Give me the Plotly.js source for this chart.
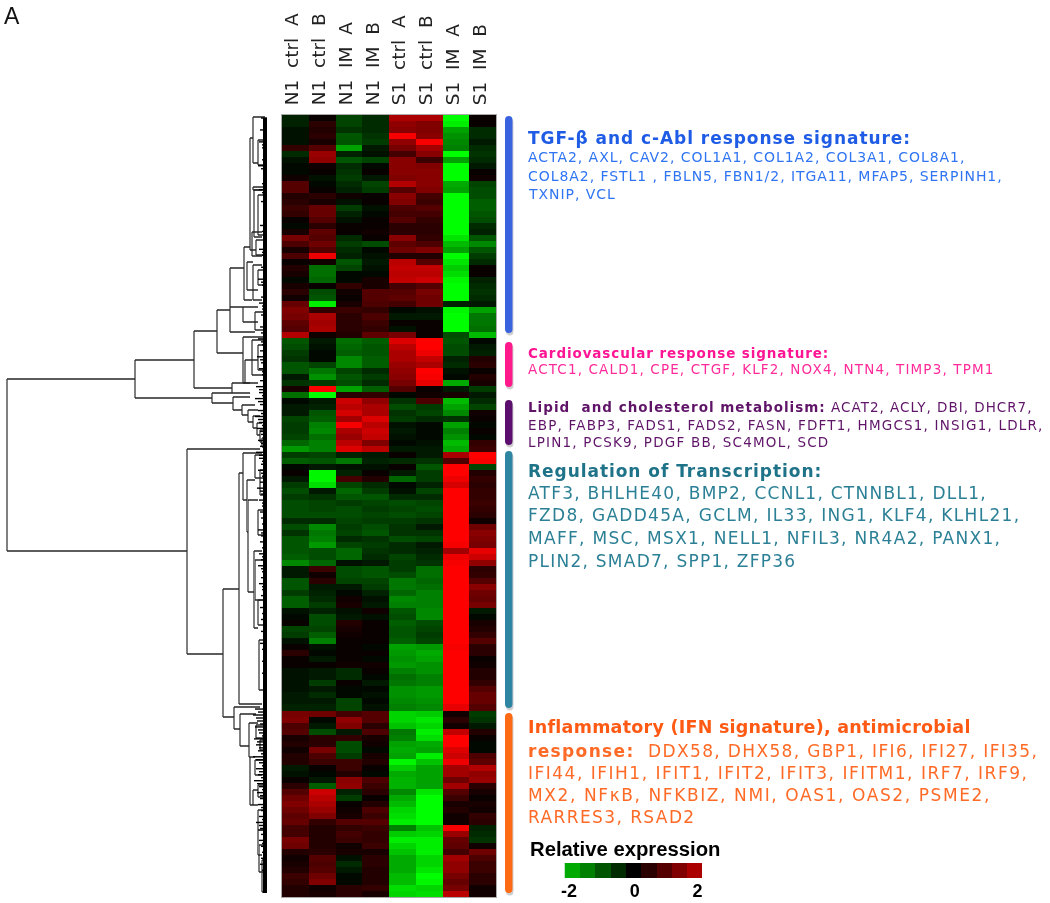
<!DOCTYPE html>
<html><head><meta charset="utf-8">
<script src="https://cdn.plot.ly/plotly-3.0.1.min.js"></script>
<style>html,body{margin:0;padding:0;background:#fff}#chart{width:1050px;height:903px;filter:blur(0.45px)}</style>
</head><body><div id="chart"></div>
<script>
var sampleLabels=['N1  ctrl  A','N1  ctrl  B','N1  IM  A','N1  IM  B','S1  ctrl  A','S1  ctrl  B','S1  IM  A','S1  IM  B'];
var tgfRows=[
[-.4,.1,-.8,-.5,2,2,-3,.1],[-.4,.5,-.8,-.5,1.7,1.5,-2.8,.1],[-.2,.4,-.6,-.5,1.6,1.5,-1.9,-.5],[-.2,.5,-1,-.6,2.9,1.6,-1.7,-.5],
[-.2,.3,-1,-.7,1.7,2.9,-1.6,-.3],[.6,1,-1.9,-.3,1.4,1.9,-1.5,-.5],[-.5,1.8,-.4,-.2,.8,1.6,-3,-.6],[-.2,1.7,-1,-.8,1.6,.7,-1.9,-.5],
[-.1,.2,-.5,-.1,1.6,1.5,-3,-.3],[-.1,.1,-.6,.1,1.6,1.6,-3,.1],[.2,-.2,-.7,-.3,1.5,1.6,-3,.2],[1,-.1,-.5,-.8,2.1,1.6,-2,-.8],
[1,.1,-.4,-.7,1,1.5,-1.9,-.9],[.4,.5,.2,.1,1.6,.8,-3,-.9],[.5,.3,-.2,.1,1.5,.7,-3,-1.1],[.7,1.2,-.7,-.2,.9,1,-3,-1.1],
[.6,1.2,-.4,-.1,.8,.8,-3,-1],[.1,1,-.2,.1,1,.6,-3,-.9],[-.1,.5,.1,.1,.5,.5,-3,-.5],[.3,1.1,.1,.2,.5,.5,-3,-.4],
[1.4,1,-.5,.1,1.6,.6,-2.7,-1],[.9,1.3,-.7,-.9,1.1,.9,-2.2,-1.6],[.3,1,-.5,-.1,1.3,1.5,-1.9,-1],[.9,2.8,-.4,-.2,.4,.4,-3,-.7],
[.1,.2,-1,-.3,2.2,1,-2.7,-.5],[.4,-1.3,-.8,-.2,2.3,2.3,-2.4,.1],[.3,-1.3,-.1,-.1,2.2,2.2,-2.6,.1],[-.1,-1.2,-.1,.3,2.3,2.4,-2.9,-.4],
[.3,.1,.6,.3,.8,1,-3,-.5],[.5,-.9,.2,1,1,1.4,-3,-.6],[.2,-1,.1,1,1.1,1.3,-3,-.5],[1.2,-2.8,.3,.9,.8,1.3,-.4,-.3],
[1.5,.6,.7,.6,-.1,-.2,-2.9,-1.9],[1.4,2,.5,.9,-.3,-.3,-3,-1.4],[1.1,1.9,.5,.7,.1,.1,-3,-1.4],[1,2,.5,.6,-.2,.1,-3,-1.3],
[2.1,.2,.4,1.1,1.4,.1,-.9,-2.2]];
var cardioRows=[
[-1,-.3,-1.3,-1.1,2.6,3,-1,-.1],[-.9,-.2,-1.2,-1,2.2,3,-.9,-.3],[-.7,-.1,-1.1,-1,2,2.8,-.9,-.4],[-.6,-.1,-1.6,-1.1,2,2.3,-.4,.4],
[-1,-.8,-1.6,-1.1,1.8,2,-.5,.5],[-1,-1.4,-.8,-.5,1.7,3,-.2,.1],[-.3,-1.7,-1,-.7,1.6,2.9,-.1,.4],[-.6,-.7,-.9,-.5,1.4,2.7,-2,.3],
[.3,3,-1.9,-1.1,1,.1,-.3,-.7],[-1.3,-3,.5,.6,-.1,.2,.3,-.3]];
var lipidRows=[
[-.1,-.3,2.4,1.7,-.6,.9,-2.2,-.5],[-.3,-.4,2.2,2,-.9,-.7,-1.9,-.8],[-.3,-1,2.5,2,-.6,-.8,-1.6,.2],[-.8,-1.1,1.9,2.6,-.7,-.5,-.6,.1],
[-.7,-1.5,2.9,2.2,-.2,-.1,-1.9,-.1],[-.7,-1.6,2,2.4,-.3,-.1,-1.5,.1],[-.8,-1.3,1.8,2.3,-.2,-.1,-1.7,-.1],[-1.2,-1.5,2.2,1.5,-.1,-.2,-2.2,.6],
[-1.8,-1.5,2.6,2.2,-.3,-.3,-2,.7]];
var transcriptionRows=[
[-.7,-.8,-.4,-.3,.1,-.3,2,3],[-1.1,-1,-1.4,-.4,-.5,-.6,.9,2.9],[-.1,-.3,-.2,-.2,.1,-1,3,-.8],[.1,-2.9,-.4,.1,-.3,-.7,3,.4],
[-.3,-2.9,.8,.4,-1.2,-.7,2.8,.6],[-.7,-2.6,-.8,-.5,-.1,-.4,2.5,.5],[-.9,-.3,-1.2,-.7,-.2,-.8,3,.6],[-.7,-.6,-1,-1,-.5,-.5,3,.6],
[-.9,-.8,-.7,-.8,-.9,-.8,3,.7],[-.9,-.8,-.9,-.7,-.8,-.9,3,.6],[-.9,-.9,-.9,-.8,-.9,-.8,3,.5],[-.5,-.5,-.8,-.7,-.7,-.6,3,.2],
[-.9,-1.6,-.7,-.9,-.6,-.3,3,1.3],[-.6,-1.4,-.8,-1,-.6,-.6,3,1.6],[-1,-1.5,-.5,-.6,-.9,-.8,3,1.5],[-1,-1.8,-.8,-.7,-.5,-.3,2.9,1.4],
[-1,-.9,-1.2,-.6,-.5,-.4,1.9,2.7],[-1.1,-.9,-1.2,-.5,-.8,-.5,2.8,2.4],[-1.6,-1.2,-.2,-.3,-.7,-.6,2.9,1.7],[-.3,.7,-.9,-1,-.7,-1.3,3,.5],
[-.3,.2,-.9,-1,-.9,-1.3,3,.6],[-1,.5,-.8,-.8,-1.4,-1.2,3,1],[-1,-.3,-.3,-.7,-1.4,-1.3,3,1.6],[-.7,-.4,-.1,-.4,-1.2,-1.5,3,1.3],
[-1.1,-.5,.2,-.2,-1.6,-1.5,3,1.2],[-1.1,-.7,.3,-.3,-1.5,-1.5,3,1.4],[-.2,-.4,-.2,.2,-1,-1.6,3,-.3],[-.1,-.9,-.3,-.2,-.9,-1.6,3,-.1],
[.1,-.9,.4,.1,-1.1,-.9,3,.3],[-.8,-.8,.3,.1,-1,-.8,3,.4],[-.7,-1.1,.2,.1,-1,-.7,3,.6],[-.2,-1.5,.1,.1,-1.1,-.8,3,1],
[.1,-.2,.1,-.1,-1.9,-1.8,2.9,.5],[.5,-.1,.1,.1,-1.8,-2,3,.5],[.1,-.3,.1,-.1,-1.7,-1.9,3,.1],[.1,.1,.2,.2,-1.8,-1.7,3,.2],
[-.2,-.3,-.5,.1,-1.5,-1.7,3,.4],[-.2,-.3,-.5,-.1,-1.3,-1.5,3,.4],[-.2,-.7,.1,-.3,-1.4,-1.5,3,.6],[-.2,-.3,-.1,-.1,-1.7,-1.8,3,1],
[-.3,-.5,-.1,-.2,-1.7,-1.8,3,1.2],[-.3,-.3,-.8,-.1,-1.6,-1.7,3,1.2],[-.4,-.4,-.8,-.2,-1.5,-1.6,2.7,1]];
var inflammatoryRows=[
[1.4,1.3,.8,1,-2.5,-2.4,.2,-.7],[1.5,-.1,1.7,1,-2.5,-2.7,.5,-.6],[.9,-.3,1.5,.5,-2.3,-2.5,.2,-.3],[1,-.9,-.3,.9,-1.4,-2.8,2.3,.4],
[.3,.5,.6,.3,-1.5,-2.6,3,.1],[.4,.5,-.9,.2,-1.9,-2,3,-.1],[.2,1.4,-.9,-.1,-2,-1.9,2.6,-.1],[.4,.9,-.7,.3,-1.9,-2.8,2.4,.9],
[.4,.7,.7,.4,-2.9,-2.3,2.8,1.1],[-.3,.1,.7,.1,-2.4,-1.9,1.9,2.1],[-.2,-.1,.4,-.1,-2,-1.9,1.9,1.7],[.1,-.3,1.6,.9,-2.1,-1.9,1.3,1.8],
[.5,-1.1,1.7,.7,-2.1,-1.9,1.9,.5],[1,2.4,-.4,.5,-1.6,-2.7,1,.3],[1.3,2.2,-.7,.1,-2,-3,.7,.1],[1.5,2,.1,.4,-2.2,-3,.3,.3],
[1.3,1.8,.2,.9,-2.5,-3,.4,.2],[1.1,1.5,.3,.7,-2.6,-3,.2,.6],[1.2,.6,1,1,-2.8,-3,.2,.5],[.8,.4,.6,.7,-1.5,-2.3,2.9,-.4],
[.8,.4,.8,.6,-2.4,-2.5,1.8,-.5],[1.4,.4,.7,.6,-2.8,-2.8,1.2,-.6],[1.3,.4,.2,.7,-2.5,-2.8,1.1,.2],[.4,.5,.3,.3,-2.3,-2.8,.8,1.3],
[.2,1,-.2,.5,-2,-2.5,1.9,.9],[.3,.9,-.5,.5,-2,-2.5,1.7,.7],[.4,1,-.3,.4,-2,-2.7,1.7,.7],[.7,1.3,-.1,.4,-2.2,-3,1.4,.5],
[.6,1.5,-.1,.4,-2.2,-2.9,1.2,.5],[.4,.2,.5,.6,-2.6,-2.5,1.4,.2],[.4,.3,.5,.3,-2.5,-2.6,2.2,.2]];

// Dendrogram clades: [merge depth, top child position, bottom child position, top child depth, bottom child depth]
var cladeRows=[
[7,379,551,135,187],[135,360,398,194,212],[194,331,388,217,232],[217,310,353,230,243],[230,268,307,244,230],[230,307,332,243,255],
[243,307,322,258,258],[244,247,300,250,252],[250,138,250,253,256],[253,117,163,265,258],[258,140,165,264,264],[253,187,190,264,264],
[254,190,237,262,262],[258,195,235,264,263],[252,232,256,262,262],[256,240,255,264,264],[253,265,300,262,262],[247,262,290,253,258],
[258,270,285,264,264],[255,312,330,264,264],[243,337,383,263,245],[252,340,375,263,263],[245,360,383,258,258],[258,345,370,264,264],
[232,383,393,250,250],[212,393,403,232,233],[233,397,410,250,242],[242,405,415,255,248],[248,410,422,258,253],[253,416,428,260,257],
[257,423,435,262,260],[260,430,442,264,262],[262,438,447,265,264],
[187,449,654,260,223],[223,589,717,239,234],[239,473,704,243,262],[243,453,500,262,247],[247,480,532,255,248],[248,500,592,258,254],
[254,551,628,262,258],[258,510,535,264,264],[255,560,600,263,263],[258,600,625,264,264],[259,640,690,264,264],[260,470,495,264,264],
[255,455,478,263,263],[234,707,729,260,240],[240,714,746,256,249],[249,723,757,258,250],[250,757,805,255,253],[255,760,775,264,262],
[253,790,805,258,258],[258,785,797,264,263],[256,725,738,263,263],[258,810,830,265,263],[258,830,855,265,262],[259,845,872,265,263],
[262,860,892,265,265],[260,740,750,264,264]];
// Width of the dense leaf comb at each heatmap row
var leafDepth=[6,4,7,3,8,5,3,5,9,4,3,5,8,3,6,4,3,4,7,5,3,4,8,5,3,6,4,9,5,4,6,8,5,6,4,7,6,9,5,7,10,6,8,5,7,11,8,12,7,9,12,8,10,6,9,7,
               11,8,6,9,5,7,10,6,8,5,7,6,5,9,6,7,5,8,6,9,5,6,8,5,6,4,7,5,6,4,6,4,7,5,4,5,4,5,3,4,3,4,3,12,14,10,12,8,13,11,9,14,8,11,9,13,8,10,7,9,6,8,11,7,6,8,6,5,6,7,5,4,4,3];

var legendValues=[-2,-1.5,-1,-0.5,0,0.5,1,1.5,2];
var legendTickVals=[-2.1,0.05,2.1], legendTickText=['-2','0','2'];
var groupTop=[116,342,400,451,713], groupBottom=[333,387,445,708,893];
var groupColors=['#3a63e0','#ff1a8c','#5c0f6e','#2f86a3','#ff6a14'];
var textLines=[
 {t:'<b>TGF-β and c-Abl response signature:</b>',y:138,s:17,ls:.95,c:'#1f5ce6'},
 {t:'ACTA2, AXL, CAV2, COL1A1, COL1A2, COL3A1, COL8A1,',y:157,s:14,ls:.95,c:'#2f74f2'},
 {t:'COL8A2, FSTL1 , FBLN5, FBN1/2, ITGA11, MFAP5, SERPINH1,',y:176,s:14,ls:.95,c:'#2f74f2'},
 {t:'TXNIP, VCL',y:194,s:14,ls:.95,c:'#2f74f2'},
 {t:'<b>Cardiovascular response signature:</b>',y:353,s:13.5,ls:.9,c:'#ff1493'},
 {t:'ACTC1, CALD1, CPE, CTGF, KLF2, NOX4, NTN4, TIMP3, TPM1',y:369,s:13.5,ls:1.15,c:'#ff2a9a'},
 {t:'<b>Lipid  and cholesterol metabolism:</b> ACAT2, ACLY, DBI, DHCR7,',y:407,s:13.5,ls:1,c:'#5f1468'},
 {t:'EBP, FABP3, FADS1, FADS2, FASN, FDFT1, HMGCS1, INSIG1, LDLR,',y:425,s:13.5,ls:1.2,c:'#5f1468'},
 {t:'LPIN1, PCSK9, PDGF BB, SC4MOL, SCD',y:442,s:13.5,ls:1.2,c:'#5f1468'},
 {t:'<b>Regulation of Transcription:</b>',y:471,s:17,ls:.95,c:'#1f7389'},
 {t:'ATF3, BHLHE40, BMP2, CCNL1, CTNNBL1, DLL1,',y:493,s:17,ls:1.25,c:'#2c8096'},
 {t:'FZD8, GADD45A, GCLM, IL33, ING1, KLF4, KLHL21,',y:515,s:17,ls:1.3,c:'#2c8096'},
 {t:'MAFF, MSC, MSX1, NELL1, NFIL3, NR4A2, PANX1,',y:538,s:17,ls:1.3,c:'#2c8096'},
 {t:'PLIN2, SMAD7, SPP1, ZFP36',y:561,s:17,ls:1.25,c:'#2c8096'},
 {t:'<b>Inflammatory (IFN signature), antimicrobial</b>',y:727,s:17.5,ls:.25,c:'#ff5a14'},
 {t:'<b>response:</b>  DDX58, DHX58, GBP1, IFI6, IFI27, IFI35,',y:751,s:17,ls:1.35,c:'#ff6a26'},
 {t:'IFI44, IFIH1, IFIT1, IFIT2, IFIT3, IFITM1, IRF7, IRF9,',y:773,s:17,ls:1.5,c:'#ff6a26'},
 {t:'MX2, NFκB, NFKBIZ, NMI, OAS1, OAS2, PSME2,',y:795,s:17,ls:1.6,c:'#ff6a26'},
 {t:'RARRES3, RSAD2',y:817,s:17,ls:1.4,c:'#ff6a26'}
];

var W=1050,H=903,F='"DejaVu Sans", Verdana, sans-serif',A='"Liberation Sans", Arial, sans-serif';
function px(x){return x/W;} function py(y){return 1-y/H;}
var z=tgfRows.concat(cardioRows,lipidRows,transcriptionRows,inflammatoryRows);
var scale=[[0,'#00ff00'],[0.5,'#000000'],[1,'#ff0000']];
var traces=[{type:'heatmap',z:z,x:[0,1,2,3,4,5,6,7],y0:3,dy:6.015,zmin:-3,zmax:3,colorscale:scale,showscale:false,xaxis:'x',yaxis:'y'},
 {type:'heatmap',z:[legendValues],x:legendValues,y:[0],zmin:-3,zmax:3,colorscale:scale,showscale:false,xaxis:'x3',yaxis:'y3'}];
var hx=[],hy=[],vx=[],vy=[];
cladeRows.forEach(function(c){
  hx.push(c[3],c[0],null,c[0],c[4],null);
  hy.push(c[1],c[1],null,c[2],c[2],null);
  vx.push(c[0],c[0],null); vy.push(c[1],c[2],null);
});
var lx=[],ly=[];
leafDepth.forEach(function(d,i){ var p=118+i*5.97; lx.push(267,267-d,null); ly.push(p,p,null);
  lx.push(267,267-Math.max(3,d-3),null); ly.push(p+3,p+3,null);});
traces.push({type:'scatter',mode:'lines',x:vx,y:vy,line:{color:'#808080',width:2},xaxis:'x2',yaxis:'y2',hoverinfo:'skip'});
traces.push({type:'scatter',mode:'lines',x:hx,y:hy,line:{color:'#262626',width:1.5},xaxis:'x2',yaxis:'y2',hoverinfo:'skip'});
traces.push({type:'scatter',mode:'lines',x:lx,y:ly,line:{color:'#000',width:1.4},xaxis:'x2',yaxis:'y2',hoverinfo:'skip'});
traces.push({type:'scatter',mode:'lines',x:[265,265],y:[118,893],line:{color:'#000',width:4},xaxis:'x2',yaxis:'y2',hoverinfo:'skip'});

var shapes=[];
groupTop.forEach(function(t,i){
  var b=groupBottom[i],r=4,x0=505,x1=512.5;
  function rr(dx,dy){return 'M'+px(x0+dx)+','+py(t+r+dy)+' Q'+px(x0+dx)+','+py(t+dy)+' '+px(x0+r-.2+dx)+','+py(t+dy)+' Q'+px(x1+dx)+','+py(t+dy)+' '+px(x1+dx)+','+py(t+r+dy)+
    ' L'+px(x1+dx)+','+py(b-r+dy)+' Q'+px(x1+dx)+','+py(b+dy)+' '+px(x0+r-.2+dx)+','+py(b+dy)+' Q'+px(x0+dx)+','+py(b+dy)+' '+px(x0+dx)+','+py(b-r+dy)+' Z';}
  shapes.push({type:'path',xref:'paper',yref:'paper',path:rr(1,2.5),fillcolor:'#cfcfcf',line:{width:0},layer:'below'});
  shapes.push({type:'path',xref:'paper',yref:'paper',path:rr(0,0),fillcolor:groupColors[i],line:{width:0}});
});
var ann=textLines.map(function(l){return {xref:'paper',yref:'paper',x:px(526),y:py(l.y),xanchor:'left',yanchor:'middle',text:'<span style="letter-spacing:'+l.ls+'px">'+l.t+'</span>',showarrow:false,align:'left',font:{family:F,size:l.s,color:l.c}};});
ann.push({xref:'paper',yref:'paper',x:px(2),y:py(16),xanchor:'left',yanchor:'middle',text:'A',showarrow:false,font:{family:A,size:23,color:'#111'}});
ann.push({xref:'paper',yref:'paper',x:px(528),y:py(849),xanchor:'left',yanchor:'middle',text:'<b>Relative expression</b>',showarrow:false,font:{family:A,size:20.3,color:'#000'}});

var layout={width:W,height:H,margin:{l:0,r:0,t:0,b:0,pad:0},paper_bgcolor:'#fff',plot_bgcolor:'#fff',showlegend:false,shapes:shapes,annotations:ann,
 xaxis:{domain:[px(282),px(496)],range:[-.5,7.5],side:'top',anchor:'y',tickvals:[0,1,2,3,4,5,6,7],ticktext:sampleLabels,tickangle:-90,ticks:'',ticklabelshift:-3,ticklabelstandoff:5,showgrid:false,zeroline:false,showline:true,linecolor:'#aaa',linewidth:1,mirror:true,tickfont:{family:F,size:18.5,color:'#222'}},
 yaxis:{domain:[py(897),py(115)],range:[782,0],showticklabels:false,ticks:'',showgrid:false,zeroline:false,showline:true,linecolor:'#aaa',linewidth:1,mirror:true,anchor:'x'},
 xaxis2:{domain:[0,px(267)],range:[0,267],visible:false,anchor:'y2'},
 yaxis2:{domain:[py(897),py(115)],range:[897,115],visible:false,anchor:'x2'},
 xaxis3:{domain:[px(564.5),px(702)],range:[-2.25,2.25],anchor:'y3',tickvals:legendTickVals,ticktext:legendTickText,ticks:'',showgrid:false,zeroline:false,tickfont:{family:A,size:18,color:'#000',weight:700}},
 yaxis3:{domain:[py(878),py(863)],range:[-.5,.5],visible:false,anchor:'x3'}};
Plotly.newPlot('chart',traces,layout,{displayModeBar:false,staticPlot:true});
</script></body></html>
